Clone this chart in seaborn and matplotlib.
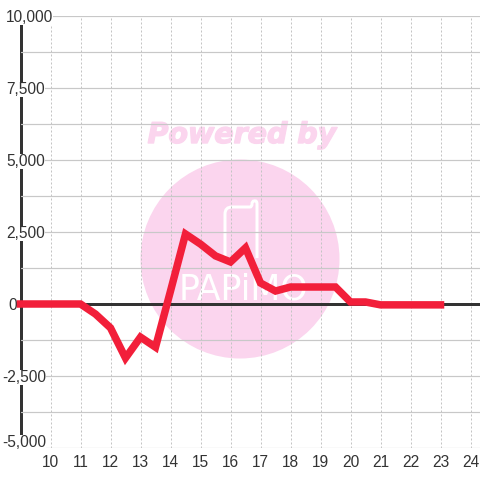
import matplotlib
matplotlib.use("Agg")
import matplotlib.pyplot as plt
import matplotlib.patheffects as pe
from matplotlib.patches import Circle, PathPatch
from matplotlib.path import Path
from matplotlib.transforms import ScaledTranslation, IdentityTransform
import pandas as pd
import seaborn as sns

hours = [9, 9.5, 10, 10.5, 11, 11.5, 12, 12.5, 13, 13.5, 14, 14.5, 15, 15.5, 16, 16.5,
         17, 17.5, 18, 18.5, 19, 19.5, 20, 20.5, 21, 21.5, 22, 22.5, 23]
values = [0, 0, 0, 0, 0, -350, -830, -1875, -1150, -1500, 450, 2430, 2080, 1670, 1460, 1950,
          730, 450, 590, 590, 590, 590, 70, 70, -30, -30, -30, -30, -30]
x_ticks = list(range(10, 25))
y_ticks = [-5000, -2500, 0, 2500, 5000, 7500, 10000]
y_labels = ["-5,000", "-2,500", "0", "2,500", "5,000", "7,500", "10,000"]
y_minor = [-3750, -1250, 1250, 3750, 6250, 8750]

sns.set_theme(style="white")
plt.rcParams["font.family"] = ["Liberation Sans", "DejaVu Sans"]

DPI = 100
px = 72 / DPI
fig = plt.figure(figsize=(4.8, 4.8), dpi=DPI, facecolor="white")
ax = fig.add_axes([20.5 / 480, 32 / 480, 459.5 / 480, 432 / 480])
ax.patch.set_visible(False)

# Watermark behind the chart (figure pixels, y up)
PINK = "#fbd5ee"
fig.add_artist(Circle((240, 480 - 259), 99.5, transform=IdentityTransform(),
                      facecolor=PINK, edgecolor="none", zorder=-1))
fig.text(242 / 480, 1 - 135 / 480, "Powered by", color=PINK, fontsize=20.5,
         family="DejaVu Sans", weight="bold", style="oblique",
         ha="center", va="center", zorder=-1,
         path_effects=[pe.withStroke(linewidth=1.0, foreground=PINK)])
M, L, C = Path.MOVETO, Path.LINETO, Path.CURVE3
logo_pts = [(225, 258, M), (225, 214, L), (225, 207, C), (232, 207, C), (250, 207, L),
            (252, 207, C), (252, 204, C), (252, 201, C), (254, 201, C), (257, 200, C), (257, 204, C),
            (257, 258, L)]
logo = Path([(x, 480 - y) for x, y, _ in logo_pts], [c for _, _, c in logo_pts])
fig.add_artist(PathPatch(logo, transform=IdentityTransform(), facecolor="none",
                         edgecolor="white", linewidth=3 * px, zorder=-1))
fig.text(243 / 480, 1 - 289 / 480, "PAPiMO", color="white", fontsize=25,
         family="DejaVu Sans", ha="center", va="center", zorder=-1)

df = pd.DataFrame({"hour": hours, "value": values})
ax.axhline(0, color="#333333", linewidth=3 * px, zorder=1.5, solid_capstyle="butt")
sns.lineplot(data=df, x="hour", y="value", ax=ax, color="#f21f3a", linewidth=7.5 * px,
             solid_joinstyle="miter", solid_capstyle="projecting", errorbar=None, zorder=3,
             clip_on=False)

ax.set_xlim(9, 9 + 459.5 / 30)
ax.set_ylim(-5000, 10000)
ax.set_xlabel("")
ax.set_ylabel("")
ax.set_xticks(x_ticks)
ax.set_xticklabels([str(t) for t in x_ticks])
ax.set_yticks(y_ticks)
ax.set_yticklabels(y_labels)
ax.set_yticks(y_minor, minor=True)
ax.set_axisbelow(True)
ax.grid(True, axis="y", which="both", color="#c8c8c8", linewidth=1.2 * px, linestyle="-")
ax.grid(True, axis="x", which="major", color="#c4c4c4", linewidth=1 * px, linestyle=(0, (2, 2)))
ax.tick_params(axis="both", which="both", length=0)
ax.tick_params(axis="x", labelsize=15.5 * px, labelcolor="#333333", pad=7 * px)
ax.tick_params(axis="y", labelsize=15.5 * px, labelcolor="#333333")

for s in ("top", "right", "bottom"):
    ax.spines[s].set_visible(False)
ax.spines["left"].set_color("#333333")
ax.spines["left"].set_linewidth(3 * px)
ax.spines["left"].set_zorder(0.4)

for lab, text in zip(ax.get_yticklabels(), y_labels):
    left = 2 if text.startswith("-") else (8 if text == "0" else 6)
    up = 7 if text == "-5,000" else 0
    lab.set_horizontalalignment("left")
    lab.set_transform(ax.get_yaxis_transform() +
                      ScaledTranslation((left - 20.5) / DPI, up / DPI, fig.dpi_scale_trans))
    lab.set_bbox(dict(facecolor="white", edgecolor="none", pad=0))

fig.savefig("out.png", dpi=DPI)
